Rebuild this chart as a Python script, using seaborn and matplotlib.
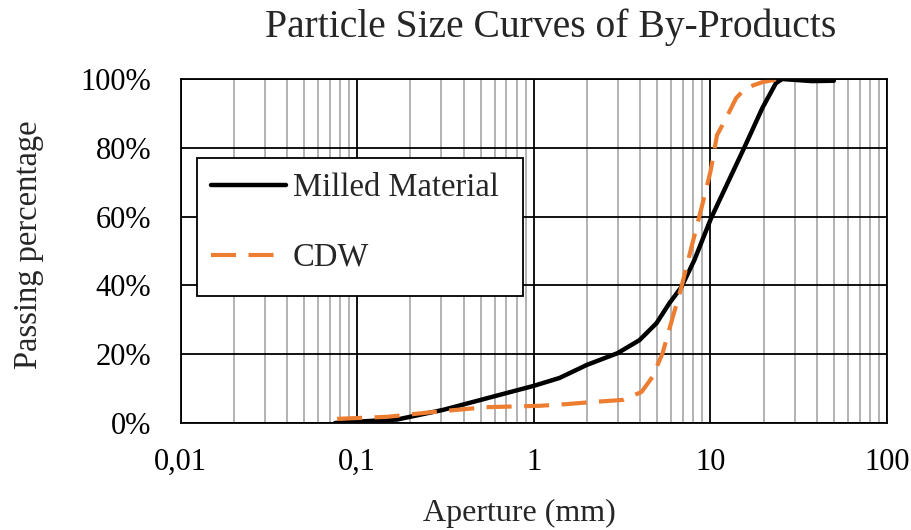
import numpy as np
import pandas as pd
import matplotlib
matplotlib.use("Agg")
import matplotlib.pyplot as plt
import matplotlib.ticker as mticker
from matplotlib.patches import Rectangle
import seaborn as sns

# Sieve aperture (mm) and passing percentage
milled_size = [0.075, 0.1, 0.168, 0.306, 0.543, 1.0, 1.40, 2.0, 2.98, 3.97,
               4.95, 5.87, 6.85, 8.12, 10.1, 15.6, 19.7, 23.5, 25.5, 37.5, 50.0]
milled_pass = [0.0, 0.4, 1.0, 3.8, 7.2, 10.8, 13.1, 16.9, 20.3, 24.1,
               29.0, 34.9, 39.5, 47.4, 59.6, 80.2, 91.6, 98.8, 100.0, 99.4, 99.5]

cdw_size = [0.077, 0.148, 0.27, 0.54, 1.08, 1.54, 2.15, 3.18, 4.07, 4.7,
            5.36, 6.1, 6.85, 7.8, 8.9, 10.0, 10.9, 12.3, 14.0, 15.9, 19.7, 24.5]
cdw_pass = [1.2, 1.8, 3.2, 4.6, 5.0, 5.5, 6.1, 6.7, 9.0, 13.4,
            20.3, 30.5, 39.5, 51.0, 62.5, 73.0, 83.7, 88.7, 94.5, 97.4, 99.1, 100.0]

x_ticks = [0.01, 0.1, 1, 10, 100]
x_labels = ["0,01", "0,1", "1", "10", "100"]
y_ticks = [0, 20, 40, 60, 80, 100]

df_milled = pd.DataFrame({"Aperture": milled_size, "Passing": milled_pass})
df_cdw = pd.DataFrame({"Aperture": cdw_size, "Passing": cdw_pass})

sns.set_style("white")
plt.rcParams["font.family"] = ["Liberation Serif", "DejaVu Serif"]

fig = plt.figure(figsize=(9.12, 5.30), dpi=100)
ax = fig.add_axes([0.198, 0.2019, 0.7746, 0.649])

# grid first so curves sit on top
ax.set_xscale("log")
ax.set_xlim(0.01, 100)
ax.set_ylim(0, 100)
ax.xaxis.set_minor_locator(mticker.LogLocator(base=10, subs=np.arange(2, 10)))
ax.grid(which="minor", axis="x", color="#a6a6a6", linewidth=1.2)
ax.grid(which="major", axis="both", color="black", linewidth=1.3)
ax.set_axisbelow(True)

sns.lineplot(data=df_milled, x="Aperture", y="Passing", ax=ax, color="black",
             linewidth=3.2, label="Milled Material", sort=False)
sns.lineplot(data=df_cdw, x="Aperture", y="Passing", ax=ax, color="#ed7d31",
             linewidth=3.0, label="CDW", sort=False)
for ln in ax.lines:
    ln.set_solid_joinstyle("round")
    ln.set_dash_joinstyle("round")
ax.lines[-1].set_dashes((6.0, 3.0))

ax.set_xticks(x_ticks)
ax.set_xticklabels(x_labels)
ax.set_yticks(y_ticks)
ax.yaxis.set_major_formatter(mticker.FuncFormatter(lambda v, p: f"{int(v)}%"))
ax.tick_params(axis="both", which="both", length=0, labelsize=22, colors="black")
ax.tick_params(axis="x", pad=18)
ax.tick_params(axis="y", pad=21)

for s in ax.spines.values():
    s.set_color("black")
    s.set_linewidth(1.3)

ax.set_xlabel("")
ax.set_ylabel("")
fig.text(0.570, 0.032, "Aperture (mm)", ha="center", va="center", fontsize=23)
fig.text(0.031, 0.538, "Passing percentage", ha="center", va="center",
         rotation=90, fontsize=23.5)
fig.text(0.604, 0.948, "Particle Size Curves of By-Products", ha="center",
         va="center", fontsize=28.5)

# legend box drawn by hand so its height can match the original
box = Rectangle((0.0227, 0.369), 0.462, 0.401, transform=ax.transAxes,
                facecolor="white", edgecolor="black", linewidth=1.3, zorder=5)
ax.add_patch(box)
leg = ax.legend(loc="upper left", bbox_to_anchor=(0.0227, 0.770),
                frameon=False, fontsize=23.5,
                handlelength=2.3, handletextpad=0.2, labelspacing=1.2,
                borderpad=0.45, borderaxespad=0)
leg.set_zorder(6)

fig.savefig("out.png", dpi=100)
